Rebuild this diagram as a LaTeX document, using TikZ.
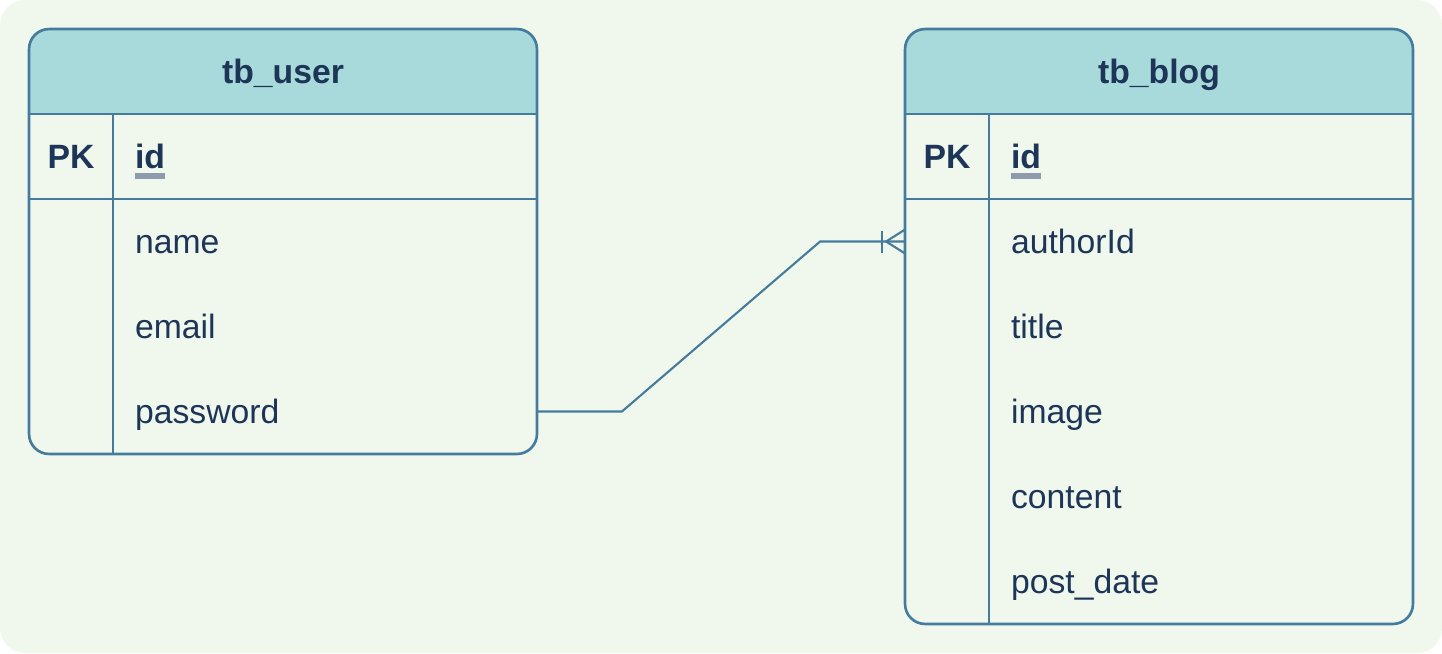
\documentclass[tikz,border=0pt]{standalone}
\usepackage{fontspec}
\setmainfont{Liberation Sans}
\usetikzlibrary{calc}

\definecolor{pagebg}{HTML}{F0F8EE}
\definecolor{headfill}{HTML}{A8DADC}
\definecolor{tableline}{HTML}{457B9D}
\definecolor{tabletext}{HTML}{1D3557}
\definecolor{keyline}{HTML}{8E9BAE}

\newsavebox\keybox
\newcommand\keyul[1]{\sbox\keybox{#1}\rlap{\textcolor{keyline}{\rule[-0.3em]{\wd\keybox}{0.16em}}}\usebox\keybox}

\tikzset{
	every node/.style={font=\fontsize{19.2}{23}\selectfont, text=tabletext, outer sep=0pt},
	tablebox/.style={draw=tableline, line width=1.5pt, rounded corners=0.4cm, minimum width=10.16cm,
		path picture={\fill[headfill, sharp corners] (path picture bounding box.north west) rectangle ([yshift=-1.7cm]path picture bounding box.north east);}},
	headcell/.style={minimum width=10.16cm, minimum height=1.7cm, inner ysep=0pt, text height=13.8pt, text depth=0pt, font=\fontsize{19.2}{23}\selectfont\bfseries},
	keycell/.style={minimum width=1.68cm, minimum height=1.7cm, inner sep=0pt, text height=13.8pt, text depth=0pt},
	fieldcell/.style={minimum height=1.7cm, inner xsep=0.44cm, inner ysep=0pt, text width=7.6cm, align=left, text height=13.8pt, text depth=0pt},
	gridline/.style={draw=tableline, line width=1.5pt},
	relline/.style={draw=tableline, line width=1.2pt}
}

\begin{document}
\begin{tikzpicture}[x=0.02cm, y=-0.02cm]
		\useasboundingbox (0,0) rectangle (1442,653);
		\fill[white] (0,0) rectangle (1442,653);
		\fill[pagebg, rounded corners=0.5cm] (0,0) rectangle (1442,653);

		%%% TABLES
		\node[tablebox, minimum height=8.5cm] (user) at (283,241.5) {};
		\node[headcell, anchor=north] (user-head) at (user.north) {tb\_user};
		\node[keycell, anchor=north west] (user-k0) at (user-head.south west) {\textbf{PK}};
		\node[fieldcell, anchor=west] (user-f0) at (user-k0.east) {\textbf{\keyul{id}}};
		\foreach \fld [count=\i] in {name, email, password} {
			\pgfmathtruncatemacro\j{\i-1}
			\node[keycell, anchor=north] (user-k\i) at (user-k\j.south) {};
			\node[fieldcell, anchor=west] (user-f\i) at (user-k\i.east) {\fld};
		}
		\draw[gridline] (user-head.south west) -- (user-head.south east);
		\draw[gridline] (user-k0.south west) -- (user-f0.south east);
		\draw[gridline] (user-k0.north east) -- (user-k0.north east |- user.south);

		\node[tablebox, minimum height=11.9cm] (blog) at (1159,326.5) {};
		\node[headcell, anchor=north] (blog-head) at (blog.north) {tb\_blog};
		\node[keycell, anchor=north west] (blog-k0) at (blog-head.south west) {\textbf{PK}};
		\node[fieldcell, anchor=west] (blog-f0) at (blog-k0.east) {\textbf{\keyul{id}}};
		\foreach \fld [count=\i] in {authorId, title, image, content, post\_date} {
			\pgfmathtruncatemacro\j{\i-1}
			\node[keycell, anchor=north] (blog-k\i) at (blog-k\j.south) {};
			\node[fieldcell, anchor=west] (blog-f\i) at (blog-k\i.east) {\fld};
		}
		\draw[gridline] (blog-head.south west) -- (blog-head.south east);
		\draw[gridline] (blog-k0.south west) -- (blog-f0.south east);
		\draw[gridline] (blog-k0.north east) -- (blog-k0.north east |- blog.south);

		%%% RELATIONS
		\draw[relline] (user-f3.east) -- ++(85,0) -- ($(blog-k1.west)+(-85,0)$) -- (blog-k1.west);
		\draw[relline] (blog-k1.west) ++(0,-12) -- ++(-19,12) -- ++(19,12);
		\draw[relline] ($(blog-k1.west)+(-23,-11)$) -- ++(0,22);
	\end{tikzpicture}
\end{document}
